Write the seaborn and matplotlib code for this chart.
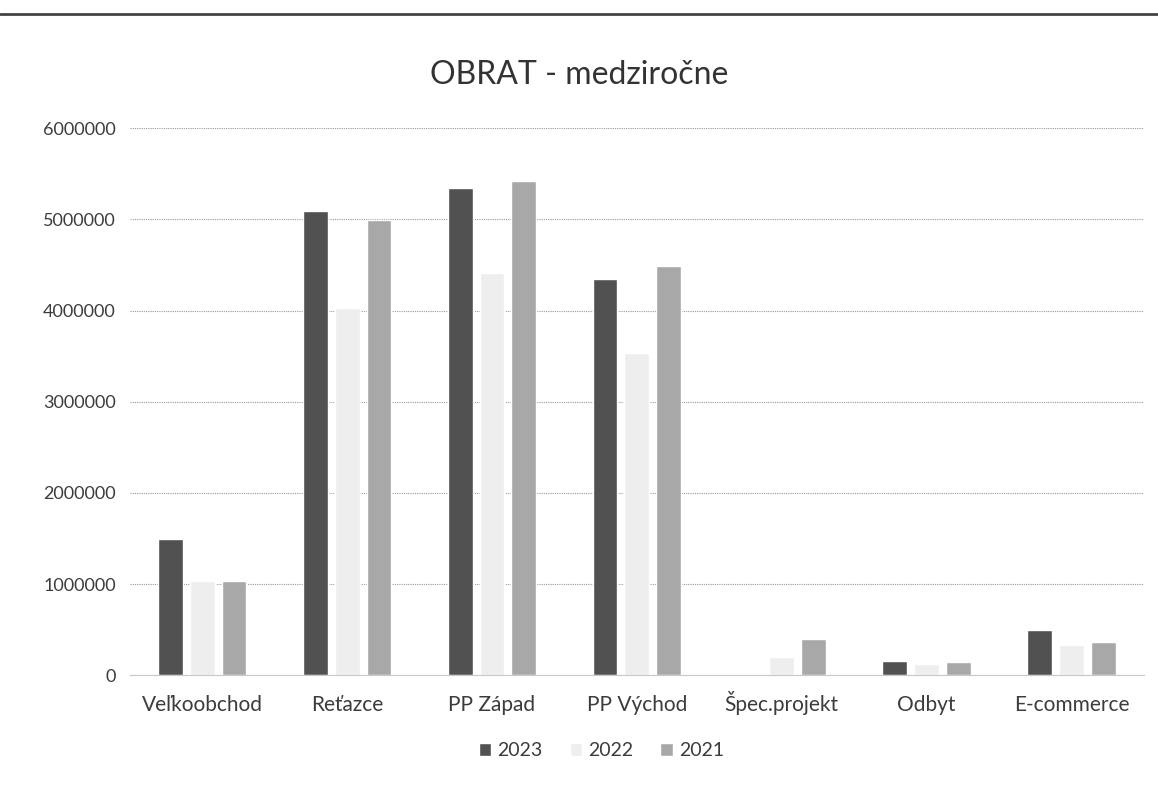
import pandas as pd
import numpy as np
import seaborn as sns
import matplotlib.pyplot as plt
from matplotlib.lines import Line2D

categories = ["Veľkoobchod", "Reťazce", "PP Západ", "PP Východ", "Špec.projekt", "Odbyt", "E-commerce"]
years = ["2023", "2022", "2021"]
obrat_2023 = [1500000, 5090000, 5340000, 4350000, 0, 160000, 500000]
obrat_2022 = [1030000, 4030000, 4410000, 3530000, 200000, 120000, 330000]
obrat_2021 = [1030000, 4990000, 5420000, 4490000, 400000, 140000, 370000]

df = pd.DataFrame({"Kategória": categories * 3,
                   "Rok": [y for y in years for _ in categories],
                   "Obrat": obrat_2023 + obrat_2022 + obrat_2021})

sns.set_style("white")
plt.rcParams['font.family'] = ['Lato', 'DejaVu Sans']

fig = plt.figure(figsize=(11.58, 7.87), dpi=100)
ax = fig.add_axes([0.112, 0.142, 0.876, 0.695])

palette = {"2023": "#515151", "2022": "#eeeeee", "2021": "#a8a8a8"}
sns.barplot(data=df, x="Kategória", y="Obrat", hue="Rok", order=categories,
            hue_order=years, palette=palette, width=0.66, gap=0.22,
            saturation=1, ax=ax, legend=True)

ax.set_ylim(0, 6000000)
ax.set_xlim(-0.5, 6.5)
ax.set_yticks(np.arange(0, 6000001, 1000000))
ax.set_yticklabels([str(v) for v in range(0, 6000001, 1000000)])
ax.yaxis.grid(True, color="#9a9a9a", linestyle=(0, (1, 1)), linewidth=0.8)
ax.set_axisbelow(True)
for s in ["top", "right", "left"]:
    ax.spines[s].set_visible(False)
ax.spines["bottom"].set_color("#c8c8c8")
ax.tick_params(axis="x", length=0, labelsize=15, colors="#3c3c3c", pad=26)
ax.tick_params(axis="y", length=0, labelsize=13, colors="#3c3c3c", pad=10)
for lab in ax.get_xticklabels():
    lab.set_verticalalignment("baseline")
ax.set_xlabel("")
ax.set_ylabel("")

fig.text(0.50, 0.905, "OBRAT - medziročne", ha="center", va="center",
         fontsize=23, color="#333333")

handles, labels = ax.get_legend_handles_labels()
ax.legend(handles, labels, loc="upper center", bbox_to_anchor=(0.465, -0.09),
          ncol=3, frameon=False, fontsize=14, handlelength=0.65,
          handleheight=0.65, columnspacing=1.4, handletextpad=0.3,
          labelcolor="#3c3c3c")

fig.add_artist(Line2D([0, 1], [0.982, 0.982], color="#444444", linewidth=2))

fig.savefig("out.png", dpi=100)
